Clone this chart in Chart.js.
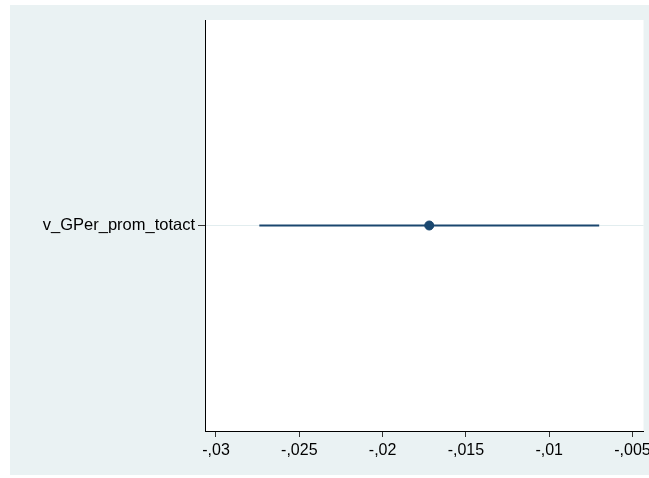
<!DOCTYPE html>
<html>
<head>
<meta charset="utf-8">
<script src="https://cdn.jsdelivr.net/npm/chart.js@4/dist/chart.umd.min.js"></script>
<style>
  html, body { margin: 0; padding: 0; background: #ffffff; }
  #wrap { width: 649px; height: 478px; }
</style>
</head>
<body>
<div id="wrap"><canvas id="myChart" width="649" height="478"></canvas></div>
<script>
// coefficient plot data
const categories = ["v_GPer_prom_totact"];
const estimates = [-0.0172];
const ciLower = [-0.0274];
const ciUpper = [-0.0070];
const tickValues = [-0.03, -0.025, -0.02, -0.015, -0.01, -0.005];
const tickLabels = ["-,03", "-,025", "-,02", "-,015", "-,01", "-,005"];

const navy = "#1a476f";

// paint the stata style background
const bgPlugin = {
  id: "bg",
  beforeDraw(chart) {
    const c = chart.ctx;
    const a = chart.chartArea;
    c.save();
    c.fillStyle = "#ffffff";
    c.fillRect(0, 0, chart.width, chart.height);
    c.fillStyle = "#eaf2f3";
    c.fillRect(10, 5, chart.width - 10, 470);
    c.fillStyle = "#ffffff";
    c.fillRect(a.left, a.top, a.right - a.left, a.bottom - a.top);
    c.restore();
  }
};

const ciData = [];
categories.forEach((cat, i) => {
  ciData.push({ x: ciLower[i], y: cat });
  ciData.push({ x: ciUpper[i], y: cat });
});

var ctx = document.getElementById("myChart").getContext("2d");
new Chart(ctx, {
  type: "scatter",
  data: {
    datasets: [
      {
        data: ciData,
        showLine: true,
        borderColor: navy,
        borderWidth: 1.8,
        pointRadius: 0,
        order: 2
      },
      {
        data: categories.map((cat, i) => ({ x: estimates[i], y: cat })),
        backgroundColor: navy,
        borderColor: navy,
        pointRadius: 4.5,
        order: 1
      }
    ]
  },
  plugins: [bgPlugin],
  options: {
    responsive: false,
    animation: false,
    layout: { padding: { top: 20, right: 4, left: 0, bottom: 0 } },
    plugins: { legend: { display: false }, tooltip: { enabled: false } },
    scales: {
      x: {
        type: "linear",
        min: -0.03066,
        max: -0.00434,
        afterBuildTicks(scale) {
          scale.ticks = tickValues.map(v => ({ value: v }));
        },
        afterFit(scale) {
          scale.height = 47;
          scale.paddingLeft = 0;
          scale.paddingRight = 0;
        },
        border: { color: "#000000", width: 1 },
        grid: { drawOnChartArea: false, tickLength: 6, tickColor: "#333333" },
        ticks: {
          color: "#000000",
          padding: 4,
          maxRotation: 0,
          autoSkip: false,
          font: { family: "Liberation Sans, Arial", size: 16 },
          callback: (v, i) => tickLabels[i]
        }
      },
      y: {
        type: "category",
        labels: categories,
        offset: true,
        afterFit(scale) {
          scale.width = 205;
          scale.paddingTop = 0;
          scale.paddingBottom = 0;
        },
        border: { color: "#000000", width: 1 },
        grid: { offset: false, color: "#e2edef", tickLength: 7, tickColor: "#333333" },
        ticks: {
          color: "#000000",
          padding: 3,
          font: { family: "Liberation Sans, Arial", size: 16.5 }
        }
      }
    }
  }
});
</script>
</body>
</html>
